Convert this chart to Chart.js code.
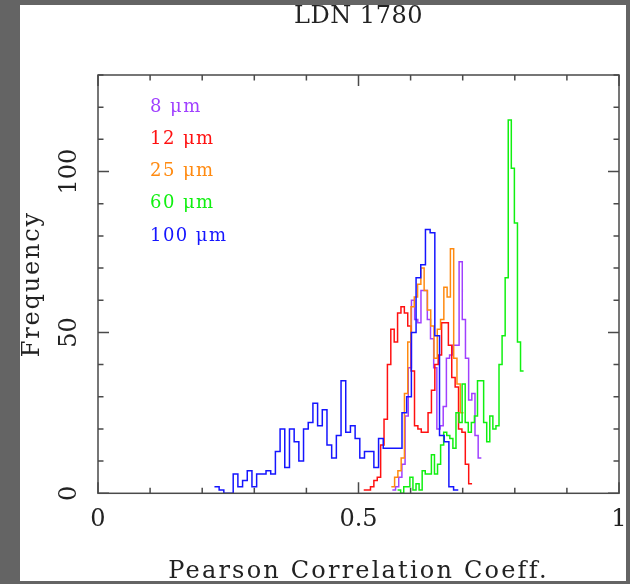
<!DOCTYPE html>
<html>
<head>
<meta charset="utf-8">
<script src="https://cdn.jsdelivr.net/npm/chart.js"></script>
<style>
  html, body { margin: 0; padding: 0; background: #646464; }
  #sheet { position: absolute; left: 20px; top: 5px; width: 606px; height: 576px; background: #fff; }
  #wrap { position: absolute; left: 0; top: 0; width: 630px; height: 584px; }
</style>
</head>
<body>
<div id="sheet"></div>
<div id="wrap"><canvas id="hist" width="630" height="584"></canvas></div>
<script>
// Histogram counts per band, with the lower edge and width of the bins
const bandLabels = ['8 μm', '12 μm', '25 μm', '60 μm', '100 μm']

const counts8 = [1, 2, 5, 9, 24, 39, 60, 54, 53, 63, 63, 54, 48, 39, 20, 21, 27, 42, 43, 46, 46, 72, 54, 42, 29, 31, 18, 11]
const counts12 = [1, 1, 2, 4, 5, 15, 23, 40, 51, 47, 56, 58, 56, 52, 38, 21, 20, 19, 19, 25, 32, 40, 43, 53, 53, 46, 36, 33, 20, 19, 9, 3]
const counts25 = [2, 5, 7, 11, 31, 47, 58, 61, 65, 70, 63, 57, 52, 42, 51, 54, 64, 61, 76, 42, 34, 25]
const counts60 = [1, 0, 2, 2, 5, 1, 3, 1, 7, 6, 6, 12, 6, 9, 15, 19, 18, 17, 14, 25, 22, 34, 22, 19, 22, 24, 35, 35, 22, 16, 24, 20, 21, 40, 49, 67, 116, 101, 84, 47, 38]
const counts100 = [2, 1, 0, 0, 6, 2, 4, 7, 2, 6, 6, 7, 6, 13, 20, 8, 20, 16, 10, 20, 22, 28, 21, 26, 15, 11, 18, 35, 19, 21, 17, 11, 13, 13, 8, 17, 14, 14, 14, 14, 25, 30, 50, 67, 71, 82, 81, 49, 18, 16, 2, 1]

const binStart = [0.565, 0.510, 0.563, 0.575, 0.2235]
const binWidth = [0.0061, 0.0065, 0.0063, 0.0059, 0.009]

const xTicks = [0, 0.5, 1]
const yTicks = [0, 50, 100]

const bandColors = ['#a040ff', '#ff1010', '#ff8a10', '#10f010', '#1515ff']
const serif = "'DejaVu Serif', serif"

// step outline: one point at each bin's left edge plus the closing right edge
function outline(counts, lo, w) {
  const pts = counts.map((c, i) => ({ x: lo + i * w, y: c }))
  pts.push({ x: lo + counts.length * w, y: counts[counts.length - 1] })
  return pts
}

const allCounts = [counts8, counts12, counts25, counts60, counts100]

const datasets = allCounts.map((counts, i) => ({
  label: bandLabels[i],
  data: outline(counts, binStart[i], binWidth[i]),
  borderColor: bandColors[i],
  borderWidth: 1.5,
  pointRadius: 0,
  fill: false,
  stepped: 'before',
  tension: 0,
  order: allCounts.length - i
}))

// box with inward tick marks, the band key, the title and the spaced-out axis titles
const frame = {
  id: 'frame',
  afterDatasetsDraw(chart) {
    const { ctx, chartArea: a, scales: { x, y } } = chart
    const midX = (a.left + a.right) / 2
    const midY = (a.top + a.bottom) / 2
    ctx.save()
    ctx.strokeStyle = '#4a4a4a'
    ctx.lineWidth = 1.5
    ctx.strokeRect(a.left, a.top, a.right - a.left, a.bottom - a.top)

    ctx.beginPath()
    for (let i = 0; i <= 10; i++) {
      const px = x.getPixelForValue(i / 10)
      const len = i % 5 === 0 ? 11 : 5.5
      ctx.moveTo(px, a.bottom); ctx.lineTo(px, a.bottom - len)
      ctx.moveTo(px, a.top); ctx.lineTo(px, a.top + len)
    }
    for (let v = 0; v <= 130; v += 10) {
      const py = y.getPixelForValue(v)
      const len = v % 50 === 0 ? 11 : 5.5
      ctx.moveTo(a.left, py); ctx.lineTo(a.left + len, py)
      ctx.moveTo(a.right, py); ctx.lineTo(a.right - len, py)
    }
    ctx.stroke()

    ctx.font = '18px ' + serif
    ctx.letterSpacing = '1.4px'
    ctx.textAlign = 'left'
    ctx.textBaseline = 'middle'
    bandLabels.forEach((t, i) => {
      ctx.fillStyle = bandColors[i]
      ctx.fillText(t, x.getPixelForValue(0.1), y.getPixelForValue(120 - 10 * i))
    })

    ctx.font = '24px ' + serif
    ctx.textAlign = 'center'
    ctx.fillStyle = '#222'
    ctx.letterSpacing = '0.5px'
    ctx.fillText('LDN 1780', midX, 17)

    ctx.letterSpacing = '2.2px'
    ctx.fillText('Pearson Correlation Coeff.', midX, 572)

    ctx.letterSpacing = '1.8px'
    ctx.translate(33, midY)
    ctx.rotate(-Math.PI / 2)
    ctx.fillText('Frequency', 0, 0)
    ctx.restore()
  }
}

new Chart(document.getElementById('hist'), {
  type: 'line',
  data: { datasets },
  plugins: [frame],
  options: {
    responsive: false,
    animation: false,
    devicePixelRatio: 1,
    layout: { padding: { top: 75, right: 11, bottom: 0, left: 0 } },
    plugins: { legend: { display: false }, tooltip: { enabled: false } },
    scales: {
      x: {
        type: 'linear',
        min: 0,
        max: 1,
        afterFit: s => { s.height = 90.7; s.paddingLeft = 0; s.paddingRight = 0 },
        afterBuildTicks: s => { s.ticks = xTicks.map(v => ({ value: v })) },
        grid: { display: false, drawTicks: false },
        border: { display: false },
        ticks: { padding: 12, maxRotation: 0, autoSkip: false, color: '#222', font: { family: serif, size: 24 }, callback: v => String(v) }
      },
      y: {
        min: 0,
        max: 130,
        afterFit: s => { s.width = 98; s.paddingTop = 0; s.paddingBottom = 0 },
        afterBuildTicks: s => { s.ticks = yTicks.map(v => ({ value: v })) },
        grid: { display: false, drawTicks: false },
        border: { display: false },
        ticks: { padding: 5, crossAlign: 'center', minRotation: 90, maxRotation: 90, autoSkip: false, color: '#222', font: { family: serif, size: 24 } }
      }
    }
  }
})
</script>
</body>
</html>
